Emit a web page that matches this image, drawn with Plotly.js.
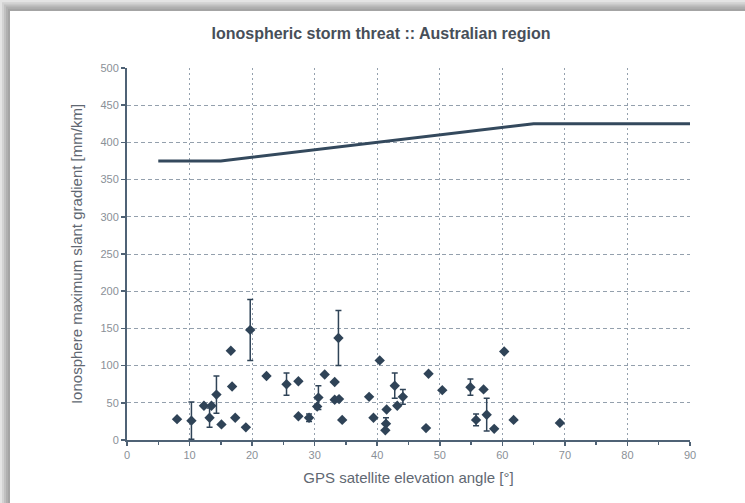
<!DOCTYPE html>
<html>
<head>
<meta charset="utf-8">
<script src="https://cdn.plot.ly/plotly-3.0.1.min.js"></script>
<style>html,body{margin:0;padding:0;background:#e6e6e6;}#chart{width:745px;height:503px;}</style>
</head>
<body>
<div id="chart"></div>
<script>
// Observed storm gradients: elevation angle [deg], gradient [mm/km], error bar half-size
const elevation = [8.0, 10.3, 12.3, 13.5, 13.2, 14.3, 15.1, 16.6, 16.8, 17.3, 19.0, 19.7, 22.3, 25.5, 27.4, 27.4, 29.1, 30.6, 30.4, 31.6, 33.2, 33.2, 33.9, 33.8, 34.4, 38.7, 39.4, 40.4, 41.5, 41.4, 41.3, 42.8, 43.2, 44.1, 47.8, 48.2, 50.4, 54.9, 55.8, 57.0, 57.5, 58.7, 60.3, 61.8, 69.2];
const gradient  = [28, 26, 46, 46, 30, 61, 21, 120, 72, 30, 17, 148, 86, 75, 79, 32, 30, 57, 45, 88, 78, 54, 55, 137, 27, 58, 30, 107, 41, 22, 13, 73, 46, 58, 16, 89, 67, 71, 27, 68, 34, 15, 119, 27, 23];
const errHalf   = [0, 25, 0, 0, 13, 25, 0, 0, 0, 0, 0, 41, 0, 15, 0, 0, 5, 16, 0, 0, 0, 0, 0, 37, 0, 0, 0, 0, 0, 8, 0, 17, 0, 10, 0, 0, 0, 11, 8, 0, 22, 0, 0, 0, 0];
// Threat model upper bound
const thresholdElev = [5, 15, 65, 90];
const thresholdGrad = [375, 375, 425, 425];
const xTicks = [0, 10, 20, 30, 40, 50, 60, 70, 80, 90];
const yTicks = [0, 50, 100, 150, 200, 250, 300, 350, 400, 450, 500];

const W = 745, H = 503, L = 127, R = 55, T = 68, B = 63;
const pw = W - L - R, ph = H - T - B;
function px(x) { return (x - L) / pw; }
function py(y) { return (H - B - y) / ph; }

const shapes = [];
const shadeCols = ['#e4e4e4', '#d2d2d2', '#c0c0c0', '#b0b0b0', '#a4a4a4'];
shadeCols.forEach((c, i) => {
  shapes.push({type: 'rect', xref: 'paper', yref: 'paper', layer: 'below',
    x0: px(i * 2), x1: px(W + 20), y0: py(i * 2.2), y1: py(H + 20),
    fillcolor: c, line: {width: 0}});
});
shapes.push({type: 'rect', xref: 'paper', yref: 'paper', layer: 'below',
  x0: px(10), x1: px(W + 20), y0: py(11), y1: py(H + 20),
  fillcolor: '#ffffff', line: {width: 0}});

const ink = '#2f4357';
const traces = [
  {x: thresholdElev, y: thresholdGrad, mode: 'lines', type: 'scatter',
   line: {color: '#34495d', width: 3}, hoverinfo: 'skip'},
  {x: elevation, y: gradient, mode: 'markers', type: 'scatter',
   marker: {symbol: 'diamond', size: 8, color: ink},
   error_y: {type: 'data', array: errHalf, visible: true, color: ink, thickness: 1.5, width: 3}}
];

const fam = 'Liberation Sans, Arial, sans-serif';
const axisFont = {family: fam, size: 11, color: '#8a9097'};
const layout = {
  width: W, height: H,
  margin: {l: L, r: R, t: T, b: B},
  paper_bgcolor: '#e6e6e6', plot_bgcolor: 'rgba(0,0,0,0)',
  showlegend: false,
  shapes: shapes,
  title: {text: 'Ionospheric storm threat :: Australian region',
    x: 381 / W, xanchor: 'center', y: 1 - 33 / H, yanchor: 'middle',
    font: {family: fam, size: 16, color: '#474f59', weight: 'bold'}},
  xaxis: {range: [0, 90], tickvals: xTicks, ticktext: xTicks.map(String),
    showgrid: true, gridcolor: '#94a0ad', griddash: '2px,3px', gridwidth: 1,
    showline: true, linecolor: '#4f6275', linewidth: 2, zeroline: false,
    ticks: 'outside', ticklen: 4, tickcolor: '#4f6275', tickwidth: 1.5,
    minor: {dtick: 5, tick0: 0, ticks: 'outside', ticklen: 3, tickcolor: '#4f6275', showgrid: false},
    tickfont: axisFont,
    title: {text: 'GPS satellite elevation angle [°]', standoff: 12,
      font: {family: fam, size: 15, color: '#5f6872'}}},
  yaxis: {range: [0, 500], tickvals: yTicks, ticktext: yTicks.map(String),
    showgrid: true, gridcolor: '#94a0ad', griddash: '4px,3px', gridwidth: 1,
    showline: true, linecolor: '#4f6275', linewidth: 2, zeroline: false,
    ticks: 'outside', ticklen: 4, tickcolor: '#4f6275', tickwidth: 1.5,
    tickfont: axisFont,
    title: {text: 'Ionosphere maximum slant gradient [mm/km]', standoff: 14,
      font: {family: fam, size: 15, color: '#5f6872'}}}
};

Plotly.newPlot('chart', traces, layout, {displayModeBar: false, staticPlot: true});
</script>
</body>
</html>
